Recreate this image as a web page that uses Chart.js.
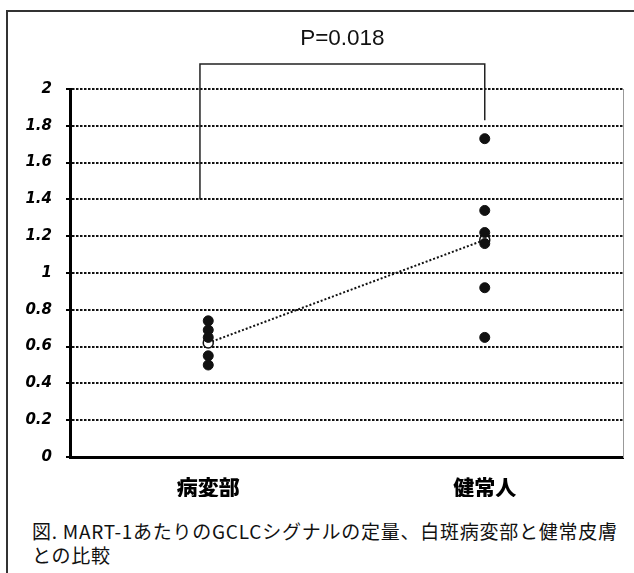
<!DOCTYPE html>
<html lang="ja">
<head>
<meta charset="utf-8">
<script src="https://cdn.jsdelivr.net/npm/chart.js@4/dist/chart.umd.min.js"></script>
<style>
  html, body { margin: 0; padding: 0; background: #fff; overflow: hidden; }
  body { width: 634px; height: 573px; position: relative; }
  #frame {
    position: absolute; left: 6px; top: 10px; width: 800px; height: 800px;
    border-left: 2px solid #333; border-top: 2px solid #333;
  }
  #wrap { position: absolute; left: 0; top: 0; width: 634px; height: 510px; }
  #caption {
    position: absolute; left: 32px; top: 519px; width: 600px;
    font-family: "Noto Sans CJK JP", sans-serif; font-size: 19px;
    line-height: 24px; color: #111; letter-spacing: 0.75px;
  }
</style>
</head>
<body>
<div id="frame"></div>
<div id="wrap"><canvas id="chart"></canvas></div>
<div id="caption">図. MART-1あたりのGCLCシグナルの定量、白斑病変部と健常皮膚<br>との比較</div>
<script>
const categories = ['病変部', '健常人'];
const lesionValues = [0.74, 0.69, 0.65, 0.55, 0.50];
const healthyValues = [1.73, 1.34, 1.22, 1.16, 0.92, 0.65];
const meanValues = [0.62, 1.18];
const yTicks = [0, 0.2, 0.4, 0.6, 0.8, 1, 1.2, 1.4, 1.6, 1.8, 2];
// bracket: left foot, top-left, top-right, right foot (x in category units)
const bracketX = [-0.03, -0.03, 1.0, 1.0];
const bracketY = [1.4, 2.136, 2.136, 1.83];
const pText = 'P=0.018';

const dots = [];
lesionValues.forEach(v => dots.push({ x: 0, y: v }));
healthyValues.forEach(v => dots.push({ x: 1, y: v }));

const pLabel = {
  id: 'pLabel',
  afterDatasetsDraw(chart) {
    const { ctx, scales } = chart;
    const x = (scales.x.getPixelForValue(bracketX[1]) + scales.x.getPixelForValue(bracketX[2])) / 2;
    const y = scales.y.getPixelForValue(bracketY[1]) - 25;
    ctx.save();
    ctx.font = '22.5px "Liberation Sans", Arial, sans-serif';
    ctx.fillStyle = '#111';
    ctx.textAlign = 'center';
    ctx.textBaseline = 'middle';
    ctx.fillText(pText, x, y);
    ctx.restore();
  }
};

new Chart(document.getElementById('chart'), {
  type: 'line',
  data: {
    datasets: [
      {
        data: dots,
        showLine: false,
        pointRadius: 5,
        pointBackgroundColor: '#111',
        pointBorderColor: '#111',
        order: 0
      },
      {
        data: meanValues.map((v, i) => ({ x: i, y: v })),
        borderColor: '#111',
        borderWidth: 2,
        borderDash: [2, 2],
        pointRadius: 5,
        pointBackgroundColor: '#fff',
        pointBorderColor: '#111',
        pointBorderWidth: 1.5,
        order: 1
      },
      {
        data: bracketX.map((x, i) => ({ x: x, y: bracketY[i] })),
        borderColor: '#222',
        borderWidth: 1.5,
        pointRadius: 0,
        clip: false,
        order: 2
      }
    ]
  },
  options: {
    responsive: true,
    maintainAspectRatio: false,
    animation: false,
    layout: { padding: { top: 89, left: 8, right: 11, bottom: 13 } },
    plugins: { legend: { display: false }, tooltip: { enabled: false } },
    scales: {
      x: {
        type: 'linear',
        min: -0.5,
        max: 1.5,
        afterBuildTicks: s => { s.ticks = categories.map((c, i) => ({ value: i })); },
        afterFit: s => { s.height = 40; },
        grid: { display: false, drawTicks: false },
        border: { display: true, color: '#000', width: 3 },
        ticks: {
          padding: 17,
          maxRotation: 0,
          color: '#000',
          font: { family: '"Noto Sans CJK JP", sans-serif', size: 21, weight: 900 },
          callback: v => categories[v]
        }
      },
      y: {
        min: 0,
        max: 2,
        afterBuildTicks: s => { s.ticks = yTicks.map(v => ({ value: v })); },
        afterFit: s => { s.width = 62; },
        grid: {
          color: c => (c.tick && c.tick.value === 0 ? 'rgba(0,0,0,0)' : '#111'),
          lineWidth: 2,
          tickLength: 4,
          tickColor: '#000',
          tickWidth: 2
        },
        border: { display: true, color: '#000', width: 3, dash: [2.5, 1.5] },
        ticks: {
          padding: 14,
          color: '#000',
          font: { family: '"DejaVu Sans", Verdana, sans-serif', size: 15, weight: 'bold', style: 'italic' },
          callback: v => String(Number(v.toFixed(1)))
        }
      },
      y2: {
        position: 'right',
        min: 0,
        max: 2,
        grid: { display: false, drawTicks: false },
        ticks: { display: false },
        border: { display: true, color: '#999', width: 1 }
      }
    }
  },
  plugins: [pLabel]
});
</script>
</body>
</html>
